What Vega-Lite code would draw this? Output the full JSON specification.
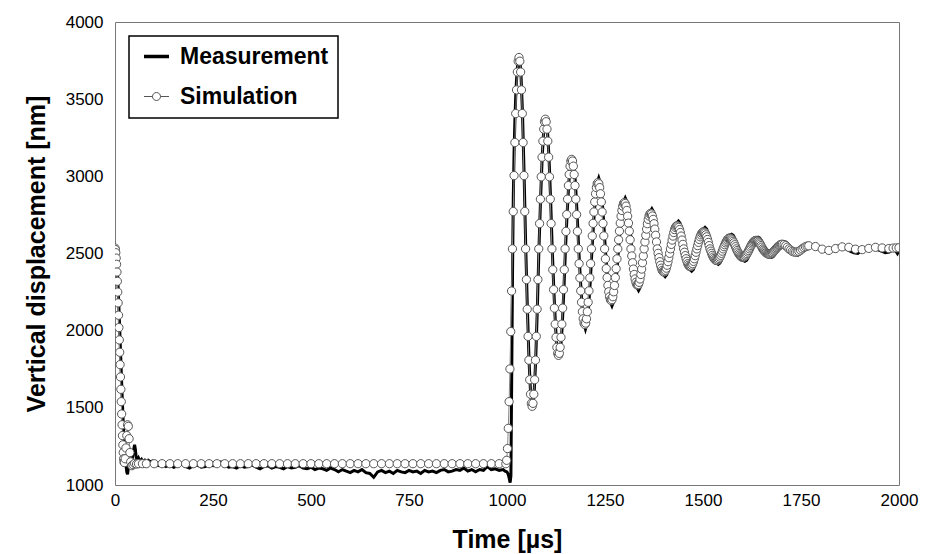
{
  "$schema": "https://vega.github.io/schema/vega-lite/v6.json",
  "width": 784,
  "height": 463,
  "autosize": {"type": "none"},
  "padding": {"left": 115, "top": 22, "right": 37, "bottom": 69},
  "background": "white",
  "config": {
    "view": {"stroke": "#777", "strokeWidth": 1},
    "font": "Liberation Sans",
    "axis": {"grid": false, "ticks": false, "domain": false, "labelColor": "black", "titleColor": "black", "labelFont": "Liberation Sans", "titleFont": "Liberation Sans", "labelFontSize": 17, "titleFontSize": 25, "titleFontWeight": "bold"}
  },
  "datasets": {
    "meas": [
      {"t":0,"v":2530},{"t":2,"v":2520},{"t":4,"v":2470},{"t":6,"v":2390},{"t":8,"v":2280},{"t":10,"v":2150},{"t":12,"v":2010},{"t":14,"v":1870},{"t":16,"v":1730},{"t":18,"v":1590},{"t":20,"v":1460},{"t":22,"v":1350},{"t":24,"v":1260},{"t":26,"v":1190},{"t":28,"v":1130},{"t":30,"v":1085},{"t":32,"v":1070},{"t":34,"v":1110},{"t":37,"v":1150},{"t":40,"v":1160},{"t":44,"v":1170},{"t":47,"v":1220},{"t":50,"v":1260},{"t":52,"v":1230},{"t":54,"v":1180},{"t":57,"v":1160},{"t":60,"v":1175},{"t":64,"v":1150},{"t":68,"v":1165},{"t":72,"v":1150},{"t":76,"v":1160},{"t":80,"v":1145},{"t":85,"v":1160},{"t":90,"v":1150},{"t":95,"v":1155},
      {"t":100,"v":1140},{"t":110,"v":1125},{"t":120,"v":1135},{"t":130,"v":1120},{"t":140,"v":1130},{"t":150,"v":1115},{"t":160,"v":1125},{"t":170,"v":1135},{"t":180,"v":1120},{"t":190,"v":1110},{"t":200,"v":1125},{"t":210,"v":1130},{"t":220,"v":1115},{"t":230,"v":1120},{"t":240,"v":1130},{"t":250,"v":1125},{"t":260,"v":1140},{"t":270,"v":1150},{"t":280,"v":1130},{"t":290,"v":1115},{"t":300,"v":1120},{"t":310,"v":1110},{"t":320,"v":1125},{"t":330,"v":1115},{"t":340,"v":1120},{"t":350,"v":1130},{"t":360,"v":1115},{"t":370,"v":1105},{"t":380,"v":1120},{"t":390,"v":1125},{"t":400,"v":1110},{"t":410,"v":1120},{"t":420,"v":1115},{"t":430,"v":1105},{"t":440,"v":1120},{"t":450,"v":1110},{"t":460,"v":1115},{"t":470,"v":1125},{"t":480,"v":1110},{"t":490,"v":1105},{"t":500,"v":1115},{"t":510,"v":1100},{"t":520,"v":1110},{"t":530,"v":1105},{"t":540,"v":1095},{"t":550,"v":1110},{"t":560,"v":1100},{"t":570,"v":1085},{"t":580,"v":1100},{"t":590,"v":1090},{"t":600,"v":1080},{"t":610,"v":1095},{"t":620,"v":1085},{"t":630,"v":1100},{"t":640,"v":1080},{"t":650,"v":1075},{"t":660,"v":1050},{"t":670,"v":1085},{"t":680,"v":1095},{"t":690,"v":1080},{"t":700,"v":1090},{"t":710,"v":1075},{"t":720,"v":1095},{"t":730,"v":1085},{"t":740,"v":1080},{"t":750,"v":1095},{"t":760,"v":1085},{"t":770,"v":1090},{"t":780,"v":1075},{"t":790,"v":1095},{"t":800,"v":1085},{"t":810,"v":1090},{"t":820,"v":1080},{"t":830,"v":1095},{"t":840,"v":1100},{"t":850,"v":1085},{"t":860,"v":1090},{"t":870,"v":1100},{"t":880,"v":1095},{"t":890,"v":1110},{"t":900,"v":1090},{"t":910,"v":1100},{"t":920,"v":1085},{"t":930,"v":1100},{"t":940,"v":1095},{"t":950,"v":1120},{"t":960,"v":1100},{"t":970,"v":1105},{"t":980,"v":1095},{"t":990,"v":1100},
      {"t":995,"v":1090},{"t":1000,"v":1085},{"t":1003,"v":1070},{"t":1006,"v":1040},{"t":1008,"v":1015},{"t":1010,"v":1060},{"t":1012,"v":1700},{"t":1014,"v":2350},{"t":1016,"v":2850},{"t":1018,"v":3150},{"t":1020,"v":3350},{"t":1022,"v":3500},{"t":1024,"v":3610},{"t":1026,"v":3690},{"t":1028,"v":3745},{"t":1031.1,"v":3780},
      {"t":1035.3,"v":3685},{"t":1039.5,"v":3414},{"t":1043.7,"v":3009},{"t":1047.9,"v":2530},{"t":1052.1,"v":2136},{"t":1056.3,"v":1802},{"t":1060.5,"v":1578},{"t":1064.7,"v":1500},
      {"t":1068.9,"v":1578},{"t":1073.1,"v":1802},{"t":1077.3,"v":2136},{"t":1081.5,"v":2530},{"t":1085.7,"v":2856},{"t":1089.9,"v":3131},{"t":1094.1,"v":3315},{"t":1098.6,"v":3380},
      {"t":1102.8,"v":3315},{"t":1107.0,"v":3131},{"t":1111.2,"v":2856},{"t":1115.4,"v":2530},{"t":1119.6,"v":2258},{"t":1123.8,"v":2028},{"t":1128.0,"v":1874},{"t":1132.4,"v":1820},
      {"t":1136.6,"v":1874},{"t":1140.8,"v":2028},{"t":1145.0,"v":2258},{"t":1149.2,"v":2530},{"t":1153.4,"v":2760},{"t":1157.6,"v":2954},{"t":1161.8,"v":3084},{"t":1166.2,"v":3130},
      {"t":1170.4,"v":3084},{"t":1174.6,"v":2954},{"t":1178.8,"v":2760},{"t":1183.0,"v":2530},{"t":1187.2,"v":2331},{"t":1191.4,"v":2162},{"t":1195.6,"v":2050},{"t":1200.1,"v":2010},
      {"t":1204.3,"v":2050},{"t":1208.5,"v":2162},{"t":1212.7,"v":2331},{"t":1216.9,"v":2530},{"t":1221.1,"v":2706},{"t":1225.3,"v":2855},{"t":1229.5,"v":2955},{"t":1234.0,"v":2990},
      {"t":1238.2,"v":2955},{"t":1242.4,"v":2855},{"t":1246.6,"v":2706},{"t":1250.8,"v":2530},{"t":1255.0,"v":2388},{"t":1259.2,"v":2268},{"t":1263.4,"v":2188},{"t":1267.8,"v":2160},
      {"t":1272.0,"v":2188},{"t":1276.2,"v":2268},{"t":1280.4,"v":2388},{"t":1284.6,"v":2530},{"t":1288.8,"v":2656},{"t":1293.0,"v":2763},{"t":1297.2,"v":2835},{"t":1301.7,"v":2860},
      {"t":1305.9,"v":2835},{"t":1310.1,"v":2763},{"t":1314.3,"v":2656},{"t":1318.5,"v":2530},{"t":1322.7,"v":2427},{"t":1326.9,"v":2339},{"t":1331.1,"v":2281},{"t":1335.6,"v":2260},
      {"t":1339.8,"v":2281},{"t":1344.0,"v":2339},{"t":1348.2,"v":2427},{"t":1352.4,"v":2530},{"t":1356.6,"v":2630},{"t":1360.8,"v":2714},{"t":1365.0,"v":2770},{"t":1369.5,"v":2790},
      {"t":1373.7,"v":2770},{"t":1377.9,"v":2714},{"t":1382.1,"v":2630},{"t":1386.3,"v":2530},{"t":1390.5,"v":2461},{"t":1394.7,"v":2403},{"t":1398.9,"v":2364},{"t":1403.4,"v":2350},
      {"t":1407.6,"v":2364},{"t":1411.8,"v":2403},{"t":1416.0,"v":2461},{"t":1420.2,"v":2530},{"t":1424.4,"v":2599},{"t":1428.6,"v":2657},{"t":1432.8,"v":2696},{"t":1437.3,"v":2710},
      {"t":1441.5,"v":2696},{"t":1445.7,"v":2657},{"t":1449.9,"v":2599},{"t":1454.1,"v":2530},{"t":1458.3,"v":2474},{"t":1462.5,"v":2427},{"t":1466.7,"v":2396},{"t":1471.2,"v":2385},
      {"t":1475.4,"v":2396},{"t":1479.6,"v":2427},{"t":1483.8,"v":2474},{"t":1488.0,"v":2530},{"t":1492.2,"v":2584},{"t":1496.4,"v":2629},{"t":1500.6,"v":2659},{"t":1505.1,"v":2670},
      {"t":1509.3,"v":2659},{"t":1513.5,"v":2629},{"t":1517.7,"v":2584},{"t":1521.9,"v":2530},{"t":1526.1,"v":2492},{"t":1530.3,"v":2459},{"t":1534.5,"v":2438},{"t":1539.0,"v":2430},
      {"t":1543.2,"v":2438},{"t":1547.4,"v":2459},{"t":1551.6,"v":2492},{"t":1555.8,"v":2530},{"t":1560.0,"v":2566},{"t":1564.2,"v":2597},{"t":1568.4,"v":2618},{"t":1572.9,"v":2625},
      {"t":1577.1,"v":2618},{"t":1581.3,"v":2597},{"t":1585.5,"v":2566},{"t":1589.7,"v":2530},{"t":1593.9,"v":2499},{"t":1598.1,"v":2473},{"t":1602.3,"v":2456},{"t":1606.8,"v":2450},
      {"t":1611.0,"v":2456},{"t":1615.2,"v":2473},{"t":1619.4,"v":2499},{"t":1623.6,"v":2530},{"t":1627.8,"v":2559},{"t":1632.0,"v":2583},{"t":1636.2,"v":2599},{"t":1640.7,"v":2605},
      {"t":1644.9,"v":2599},{"t":1649.1,"v":2583},{"t":1653.3,"v":2559},{"t":1657.5,"v":2530},{"t":1661.7,"v":2509},{"t":1665.9,"v":2491},{"t":1670.1,"v":2479},{"t":1674.6,"v":2475},
      {"t":1678.8,"v":2479},{"t":1683.0,"v":2491},{"t":1687.2,"v":2509},{"t":1691.4,"v":2530},{"t":1695.6,"v":2547},{"t":1699.8,"v":2562},{"t":1704.0,"v":2572},{"t":1708.5,"v":2575},
      {"t":1712.7,"v":2572},{"t":1716.9,"v":2562},{"t":1721.1,"v":2547},{"t":1725.3,"v":2530},{"t":1729.5,"v":2515},{"t":1733.7,"v":2502},{"t":1737.9,"v":2493},{"t":1742.4,"v":2490},
      {"t":1750.8,"v":2502},{"t":1759.2,"v":2530},{"t":1767.6,"v":2551},{"t":1776.3,"v":2560},
      {"t":1785,"v":2552},{"t":1795,"v":2535},{"t":1805,"v":2520},{"t":1815,"v":2515},{"t":1825,"v":2525},{"t":1835,"v":2540},{"t":1845,"v":2548},{"t":1855,"v":2545},{"t":1865,"v":2530},{"t":1875,"v":2515},{"t":1885,"v":2505},{"t":1895,"v":2500},{"t":1905,"v":2520},{"t":1915,"v":2535},{"t":1925,"v":2540},{"t":1935,"v":2535},{"t":1945,"v":2525},{"t":1955,"v":2515},{"t":1965,"v":2505},{"t":1975,"v":2510},{"t":1985,"v":2525},{"t":1992,"v":2515},{"t":1996,"v":2500},{"t":2000,"v":2520}
    ],
    "sim": [
      {"t":0,"v":2535},{"t":1,"v":2525},{"t":2,"v":2505},{"t":3,"v":2470},{"t":4,"v":2430},{"t":5,"v":2380},{"t":6,"v":2320},{"t":7,"v":2250},{"t":8,"v":2180},{"t":9,"v":2100},{"t":10,"v":2020},{"t":11,"v":1940},{"t":12,"v":1860},{"t":13,"v":1780},{"t":14,"v":1700},{"t":15,"v":1620},{"t":16,"v":1540},{"t":17,"v":1460},{"t":18,"v":1390},{"t":19,"v":1320},{"t":20,"v":1260},{"t":21,"v":1210},{"t":22,"v":1170},{"t":23,"v":1150},{"t":24,"v":1145},{"t":26,"v":1170},{"t":28,"v":1240},{"t":30,"v":1320},{"t":32,"v":1390},{"t":34,"v":1380},{"t":36,"v":1300},{"t":38,"v":1210},{"t":40,"v":1150},{"t":43,"v":1125},{"t":46,"v":1132},{"t":50,"v":1140},{"t":55,"v":1136},{"t":60,"v":1138},{"t":70,"v":1138},
      {"t":80,"v":1138},{"t":100,"v":1138},{"t":120,"v":1138},{"t":140,"v":1138},{"t":160,"v":1138},{"t":180,"v":1138},{"t":200,"v":1138},{"t":220,"v":1138},{"t":240,"v":1138},{"t":260,"v":1138},{"t":280,"v":1138},{"t":300,"v":1138},{"t":320,"v":1138},{"t":340,"v":1138},{"t":360,"v":1138},{"t":380,"v":1138},{"t":400,"v":1138},{"t":420,"v":1138},{"t":440,"v":1138},{"t":460,"v":1138},{"t":480,"v":1138},{"t":500,"v":1138},{"t":520,"v":1138},{"t":540,"v":1138},{"t":560,"v":1138},{"t":580,"v":1138},{"t":600,"v":1138},{"t":620,"v":1138},{"t":640,"v":1138},{"t":660,"v":1138},{"t":680,"v":1138},{"t":700,"v":1138},{"t":720,"v":1138},{"t":740,"v":1138},{"t":760,"v":1138},{"t":780,"v":1138},{"t":800,"v":1138},{"t":820,"v":1138},{"t":840,"v":1138},{"t":860,"v":1138},{"t":880,"v":1138},{"t":900,"v":1138},{"t":920,"v":1138},{"t":940,"v":1138},{"t":960,"v":1138},{"t":980,"v":1138},
      {"t":997,"v":1138},{"t":999.1,"v":1160},{"t":1001.2,"v":1236},{"t":1003.3,"v":1367},{"t":1005.4,"v":1540},{"t":1007.5,"v":1752},{"t":1009.6,"v":1994},{"t":1011.7,"v":2257},{"t":1013.8,"v":2530},{"t":1015.9,"v":2772},{"t":1018.0,"v":3005},{"t":1020.1,"v":3219},{"t":1022.2,"v":3407},{"t":1024.3,"v":3560},{"t":1026.4,"v":3676},{"t":1028.5,"v":3746},{"t":1030.6,"v":3770},
      {"t":1032.7,"v":3746},{"t":1034.8,"v":3676},{"t":1036.9,"v":3560},{"t":1039.0,"v":3407},{"t":1041.1,"v":3219},{"t":1043.2,"v":3005},{"t":1045.3,"v":2772},{"t":1047.4,"v":2530},{"t":1049.5,"v":2331},{"t":1051.6,"v":2139},{"t":1053.7,"v":1963},{"t":1055.8,"v":1809},{"t":1057.9,"v":1682},{"t":1060.0,"v":1588},{"t":1062.1,"v":1529},{"t":1064.2,"v":1510},
      {"t":1066.3,"v":1529},{"t":1068.4,"v":1588},{"t":1070.5,"v":1682},{"t":1072.6,"v":1809},{"t":1074.7,"v":1963},{"t":1076.8,"v":2139},{"t":1078.9,"v":2331},{"t":1081.0,"v":2530},{"t":1083.1,"v":2694},{"t":1085.2,"v":2852},{"t":1087.3,"v":2997},{"t":1089.4,"v":3124},{"t":1091.5,"v":3228},{"t":1093.6,"v":3306},{"t":1095.7,"v":3354},{"t":1097.8,"v":3370},
      {"t":1099.9,"v":3354},{"t":1102.0,"v":3306},{"t":1104.1,"v":3228},{"t":1106.2,"v":3124},{"t":1108.3,"v":2997},{"t":1110.4,"v":2852},{"t":1112.5,"v":2694},{"t":1114.6,"v":2530},{"t":1116.7,"v":2395},{"t":1118.8,"v":2266},{"t":1120.9,"v":2146},{"t":1123.0,"v":2042},{"t":1125.1,"v":1957},{"t":1127.2,"v":1892},{"t":1129.3,"v":1853},{"t":1131.4,"v":1840},
      {"t":1133.5,"v":1853},{"t":1135.6,"v":1892},{"t":1137.7,"v":1957},{"t":1139.8,"v":2042},{"t":1141.9,"v":2146},{"t":1144.0,"v":2266},{"t":1146.1,"v":2395},{"t":1148.2,"v":2530},{"t":1150.3,"v":2643},{"t":1152.4,"v":2752},{"t":1154.5,"v":2852},{"t":1156.6,"v":2940},{"t":1158.7,"v":3012},{"t":1160.8,"v":3066},{"t":1162.9,"v":3099},{"t":1165.0,"v":3110},
      {"t":1167.1,"v":3099},{"t":1169.2,"v":3066},{"t":1171.3,"v":3012},{"t":1173.4,"v":2940},{"t":1175.5,"v":2852},{"t":1177.6,"v":2752},{"t":1179.7,"v":2643},{"t":1181.8,"v":2530},{"t":1183.9,"v":2434},{"t":1186.0,"v":2342},{"t":1188.1,"v":2258},{"t":1190.2,"v":2184},{"t":1192.3,"v":2123},{"t":1194.4,"v":2077},{"t":1196.5,"v":2049},{"t":1198.6,"v":2040},
      {"t":1200.7,"v":2049},{"t":1202.8,"v":2077},{"t":1204.9,"v":2123},{"t":1207.0,"v":2184},{"t":1209.1,"v":2258},{"t":1211.2,"v":2342},{"t":1213.3,"v":2434},{"t":1215.4,"v":2530},{"t":1217.5,"v":2614},{"t":1219.6,"v":2695},{"t":1221.7,"v":2769},{"t":1223.8,"v":2834},{"t":1225.9,"v":2887},{"t":1228.0,"v":2927},{"t":1230.1,"v":2952},{"t":1232.2,"v":2960},
      {"t":1234.3,"v":2952},{"t":1236.4,"v":2927},{"t":1238.5,"v":2887},{"t":1240.6,"v":2834},{"t":1242.7,"v":2769},{"t":1244.8,"v":2695},{"t":1246.9,"v":2614},{"t":1249.0,"v":2530},{"t":1251.1,"v":2465},{"t":1253.2,"v":2402},{"t":1255.3,"v":2344},{"t":1257.4,"v":2293},{"t":1259.5,"v":2252},{"t":1261.6,"v":2220},{"t":1263.7,"v":2201},{"t":1265.8,"v":2195},
      {"t":1267.9,"v":2201},{"t":1270.0,"v":2220},{"t":1272.1,"v":2252},{"t":1274.2,"v":2293},{"t":1276.3,"v":2344},{"t":1278.4,"v":2402},{"t":1280.5,"v":2465},{"t":1282.6,"v":2530},{"t":1284.7,"v":2589},{"t":1286.8,"v":2645},{"t":1288.9,"v":2697},{"t":1291.0,"v":2742},{"t":1293.1,"v":2779},{"t":1295.2,"v":2807},{"t":1297.3,"v":2824},{"t":1299.4,"v":2830},
      {"t":1301.5,"v":2824},{"t":1303.6,"v":2807},{"t":1305.7,"v":2779},{"t":1307.8,"v":2742},{"t":1309.9,"v":2697},{"t":1312.0,"v":2645},{"t":1314.1,"v":2589},{"t":1316.2,"v":2530},{"t":1318.3,"v":2484},{"t":1320.4,"v":2440},{"t":1322.5,"v":2399},{"t":1324.6,"v":2364},{"t":1326.7,"v":2335},{"t":1328.8,"v":2313},{"t":1330.9,"v":2299},{"t":1333.0,"v":2295},
      {"t":1335.1,"v":2299},{"t":1337.2,"v":2313},{"t":1339.3,"v":2335},{"t":1341.4,"v":2364},{"t":1343.5,"v":2399},{"t":1345.6,"v":2440},{"t":1347.7,"v":2484},{"t":1349.8,"v":2530},{"t":1351.9,"v":2575},{"t":1354.0,"v":2618},{"t":1356.1,"v":2658},{"t":1358.2,"v":2693},{"t":1360.3,"v":2721},{"t":1362.4,"v":2743},{"t":1364.5,"v":2756},{"t":1366.6,"v":2760},
      {"t":1368.7,"v":2756},{"t":1370.8,"v":2743},{"t":1372.9,"v":2721},{"t":1375.0,"v":2693},{"t":1377.1,"v":2658},{"t":1379.2,"v":2618},{"t":1381.3,"v":2575},{"t":1383.4,"v":2530},{"t":1385.5,"v":2501},{"t":1387.6,"v":2473},{"t":1389.7,"v":2447},{"t":1391.8,"v":2424},{"t":1393.9,"v":2405},{"t":1396.0,"v":2391},{"t":1398.1,"v":2383},{"t":1400.2,"v":2380},
      {"t":1402.3,"v":2383},{"t":1404.4,"v":2391},{"t":1406.5,"v":2405},{"t":1408.6,"v":2424},{"t":1410.7,"v":2447},{"t":1412.8,"v":2473},{"t":1414.9,"v":2501},{"t":1417.0,"v":2530},{"t":1419.1,"v":2559},{"t":1421.2,"v":2587},{"t":1423.3,"v":2613},{"t":1425.4,"v":2636},{"t":1427.5,"v":2655},{"t":1429.6,"v":2669},{"t":1431.7,"v":2677},{"t":1433.8,"v":2680},
      {"t":1435.9,"v":2677},{"t":1438.0,"v":2669},{"t":1440.1,"v":2655},{"t":1442.2,"v":2636},{"t":1444.3,"v":2613},{"t":1446.4,"v":2587},{"t":1448.5,"v":2559},{"t":1450.6,"v":2530},{"t":1452.7,"v":2508},{"t":1454.8,"v":2486},{"t":1456.9,"v":2466},{"t":1459.0,"v":2449},{"t":1461.1,"v":2434},{"t":1463.2,"v":2424},{"t":1465.3,"v":2417},{"t":1467.4,"v":2415},
      {"t":1469.5,"v":2417},{"t":1471.6,"v":2424},{"t":1473.7,"v":2434},{"t":1475.8,"v":2449},{"t":1477.9,"v":2466},{"t":1480.0,"v":2486},{"t":1482.1,"v":2508},{"t":1484.2,"v":2530},{"t":1486.3,"v":2551},{"t":1488.4,"v":2572},{"t":1490.5,"v":2591},{"t":1492.6,"v":2608},{"t":1494.7,"v":2621},{"t":1496.8,"v":2632},{"t":1498.9,"v":2638},{"t":1501.0,"v":2640},
      {"t":1503.1,"v":2638},{"t":1505.2,"v":2632},{"t":1507.3,"v":2621},{"t":1509.4,"v":2608},{"t":1511.5,"v":2591},{"t":1513.6,"v":2572},{"t":1515.7,"v":2551},{"t":1517.8,"v":2530},{"t":1519.9,"v":2515},{"t":1522.0,"v":2501},{"t":1524.1,"v":2488},{"t":1526.2,"v":2477},{"t":1528.3,"v":2468},{"t":1530.4,"v":2461},{"t":1532.5,"v":2456},{"t":1534.6,"v":2455},
      {"t":1536.7,"v":2456},{"t":1538.8,"v":2461},{"t":1540.9,"v":2468},{"t":1543.0,"v":2477},{"t":1545.1,"v":2488},{"t":1547.2,"v":2501},{"t":1549.3,"v":2515},{"t":1551.4,"v":2530},{"t":1553.5,"v":2544},{"t":1555.6,"v":2557},{"t":1557.7,"v":2569},{"t":1559.8,"v":2579},{"t":1561.9,"v":2588},{"t":1564.0,"v":2595},{"t":1566.1,"v":2599},{"t":1568.2,"v":2600},
      {"t":1570.3,"v":2599},{"t":1572.4,"v":2595},{"t":1574.5,"v":2588},{"t":1576.6,"v":2579},{"t":1578.7,"v":2569},{"t":1580.8,"v":2557},{"t":1582.9,"v":2544},{"t":1585.0,"v":2530},{"t":1587.1,"v":2519},{"t":1589.2,"v":2509},{"t":1591.3,"v":2499},{"t":1593.4,"v":2491},{"t":1595.5,"v":2484},{"t":1597.6,"v":2479},{"t":1599.7,"v":2476},{"t":1601.8,"v":2475},
      {"t":1603.9,"v":2476},{"t":1606.0,"v":2479},{"t":1608.1,"v":2484},{"t":1610.2,"v":2491},{"t":1612.3,"v":2499},{"t":1614.4,"v":2509},{"t":1616.5,"v":2519},{"t":1618.6,"v":2530},{"t":1620.7,"v":2541},{"t":1622.8,"v":2551},{"t":1624.9,"v":2561},{"t":1627.0,"v":2569},{"t":1629.1,"v":2576},{"t":1631.2,"v":2581},{"t":1633.3,"v":2584},{"t":1635.4,"v":2585},
      {"t":1637.5,"v":2584},{"t":1639.6,"v":2581},{"t":1641.7,"v":2576},{"t":1643.8,"v":2569},{"t":1645.9,"v":2561},{"t":1648.0,"v":2551},{"t":1650.1,"v":2541},{"t":1652.2,"v":2530},{"t":1654.3,"v":2523},{"t":1656.4,"v":2517},{"t":1658.5,"v":2511},{"t":1660.6,"v":2505},{"t":1662.7,"v":2501},{"t":1664.8,"v":2498},{"t":1666.9,"v":2496},{"t":1669.0,"v":2495},
      {"t":1671.1,"v":2496},{"t":1673.2,"v":2498},{"t":1675.3,"v":2501},{"t":1677.4,"v":2505},{"t":1679.5,"v":2511},{"t":1681.6,"v":2517},{"t":1683.7,"v":2523},{"t":1685.8,"v":2530},{"t":1687.9,"v":2536},{"t":1690.0,"v":2541},{"t":1692.1,"v":2547},{"t":1694.2,"v":2551},{"t":1696.3,"v":2555},{"t":1698.4,"v":2558},{"t":1700.5,"v":2559},{"t":1702.6,"v":2560},
      {"t":1706.8,"v":2558},{"t":1711.0,"v":2551},{"t":1715.2,"v":2541},{"t":1719.4,"v":2530},{"t":1723.6,"v":2522},{"t":1727.8,"v":2514},{"t":1732.0,"v":2510},{"t":1736.2,"v":2508},{"t":1740.4,"v":2510},{"t":1744.6,"v":2514},{"t":1748.8,"v":2522},{"t":1753.0,"v":2530},{"t":1757.2,"v":2538},{"t":1761.4,"v":2544},{"t":1765.6,"v":2548},{"t":1769.8,"v":2550},
      {"t":1787,"v":2545},{"t":1804,"v":2528},{"t":1821,"v":2520},{"t":1838,"v":2532},{"t":1855,"v":2543},{"t":1872,"v":2540},{"t":1889,"v":2528},{"t":1906,"v":2525},{"t":1923,"v":2533},{"t":1940,"v":2540},{"t":1957,"v":2536},{"t":1974,"v":2532},{"t":1985,"v":2535},{"t":1993,"v":2536},{"t":2000,"v":2537}
    ]
  },
  "encoding": {
    "x": {"field": "t", "type": "quantitative", "scale": {"domain": [0, 2000], "nice": false, "zero": false}, "axis": {"values": [0, 250, 500, 750, 1000, 1250, 1500, 1750, 2000], "format": "d", "title": "Time [µs]", "labelFontSize": 17, "titleFontSize": 25, "labelPadding": 7, "titlePadding": 19, "labelFlush": false}},
    "y": {"field": "v", "type": "quantitative", "scale": {"domain": [1000, 4000], "nice": false, "zero": false}, "axis": {"values": [1000, 1500, 2000, 2500, 3000, 3500, 4000], "format": "d", "title": "Vertical displacement [nm]", "labelFontSize": 17, "titleFontSize": 25, "labelPadding": 12, "titlePadding": 16, "labelFlush": false}}
  },
  "layer": [
    {
      "data": {"name": "meas"},
      "mark": {"type": "line", "strokeWidth": 3, "strokeJoin": "miter", "clip": true},
      "encoding": {
        "color": {
          "datum": "Measurement",
          "type": "nominal",
          "scale": {"domain": ["Measurement", "Simulation"], "range": ["black", "#555555"]},
          "legend": {
            "title": null,
            "orient": "none",
            "legendX": 14,
            "legendY": 14,
            "padding": 9,
            "symbolOffset": 7,
            "strokeColor": "black",
            "fillColor": "white",
            "labelFont": "Liberation Sans",
            "labelFontSize": 23,
            "labelFontWeight": "bold",
            "labelColor": "black",
            "labelOffset": 12,
            "labelLimit": 400,
            "rowPadding": 16,
            "symbolSize": 625,
            "encode": {
              "legend": {"update": {"strokeWidth": {"value": 1.5}}},
              "labels": {"update": {"text": {"signal": "datum.label + '  '"}}},
              "symbols": {"update": {
                "shape": {"signal": "datum.value === 'Simulation' ? 'M-1,0H-0.32M1,0H0.32M0.32,0A0.32,0.32,0,1,1,-0.32,0A0.32,0.32,0,1,1,0.32,0' : 'M-1,0H1'"},
                "strokeWidth": {"signal": "datum.value === 'Simulation' ? 1 : 3.5"},
                "stroke": {"signal": "datum.value === 'Simulation' ? '#555555' : 'black'"},
                "fill": {"value": "white"},
                "opacity": {"value": 1}
              }}
            }
          }
        }
      }
    },
    {
      "data": {"name": "sim"},
      "mark": {"type": "line", "strokeWidth": 1, "color": "#888888", "clip": true},
      "encoding": {}
    },
    {
      "data": {"name": "sim"},
      "mark": {"type": "point", "shape": "circle", "filled": false, "fill": "white", "fillOpacity": 1, "strokeWidth": 1, "size": 68, "opacity": 1, "clip": true},
      "encoding": {"color": {"datum": "Simulation", "type": "nominal"}}
    }
  ]
}
